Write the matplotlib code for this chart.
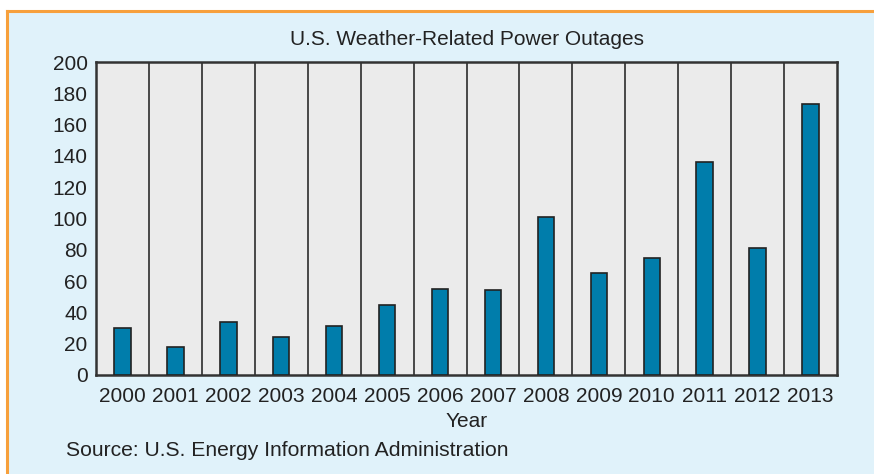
import matplotlib.pyplot as plt
from matplotlib.patches import Rectangle
from matplotlib.lines import Line2D

plt.rcParams['font.family'] = ['Liberation Sans', 'DejaVu Sans']

# data
years = ['2000', '2001', '2002', '2003', '2004', '2005', '2006',
         '2007', '2008', '2009', '2010', '2011', '2012', '2013']
outages = [30, 18, 34, 24, 31, 45, 55, 54, 101, 65, 75, 136, 81, 173]
y_ticks = [0, 20, 40, 60, 80, 100, 120, 140, 160, 180, 200]

W, H = 874, 474
fig = plt.figure(figsize=(W / 100, H / 100), dpi=100, facecolor='white')

# light blue panel with orange border on top and left
fig.patches.append(Rectangle((7 / W, 0), 1, 1 - 10.5 / H, transform=fig.transFigure,
                             facecolor='#e0f2fa', edgecolor='none', zorder=-2))
fig.lines.append(Line2D([7 / W, 1], [1 - 10.5 / H, 1 - 10.5 / H], transform=fig.transFigure,
                        color='#f7a03c', lw=2.2, zorder=-1))
fig.lines.append(Line2D([7 / W, 7 / W], [0, 1 - 10.5 / H], transform=fig.transFigure,
                        color='#f7a03c', lw=2.2, zorder=-1))

ax = fig.add_axes([96 / W, 1 - 375 / H, (837 - 96) / W, (375 - 62) / H])
ax.set_zorder(2)
ax.set_facecolor('#ebebeb')

x = list(range(len(years)))
ax.bar(x, outages, width=0.31, color='#007dab', edgecolor='#222222', linewidth=1.2, zorder=3)

ax.set_xlim(-0.5, len(years) - 0.5)
ax.set_ylim(0, 200)
ax.set_xticks(x)
ax.set_xticklabels(years)
ax.set_yticks(y_ticks)
ax.set_xticks([i + 0.5 for i in x[:-1]], minor=True)
ax.grid(axis='x', which='minor', color='#3a3a3a', linewidth=1.3, zorder=1)
ax.tick_params(which='both', length=0, labelsize=15, colors='#222222')
ax.tick_params(axis='x', pad=9)
ax.tick_params(axis='y', pad=6)
for s in ax.spines.values():
    s.set_color('#333333')
    s.set_linewidth(1.8)

ax.set_title('U.S. Weather-Related Power Outages', fontsize=15, color='#222222', pad=12)
ax.set_xlabel('Year', fontsize=15, color='#222222', labelpad=4)
fig.text(66 / W, 1 - 456 / H, 'Source: U.S. Energy Information Administration',
         fontsize=15.2, color='#222222', ha='left', va='baseline')

fig.savefig('out.png', dpi=100, facecolor='white')
